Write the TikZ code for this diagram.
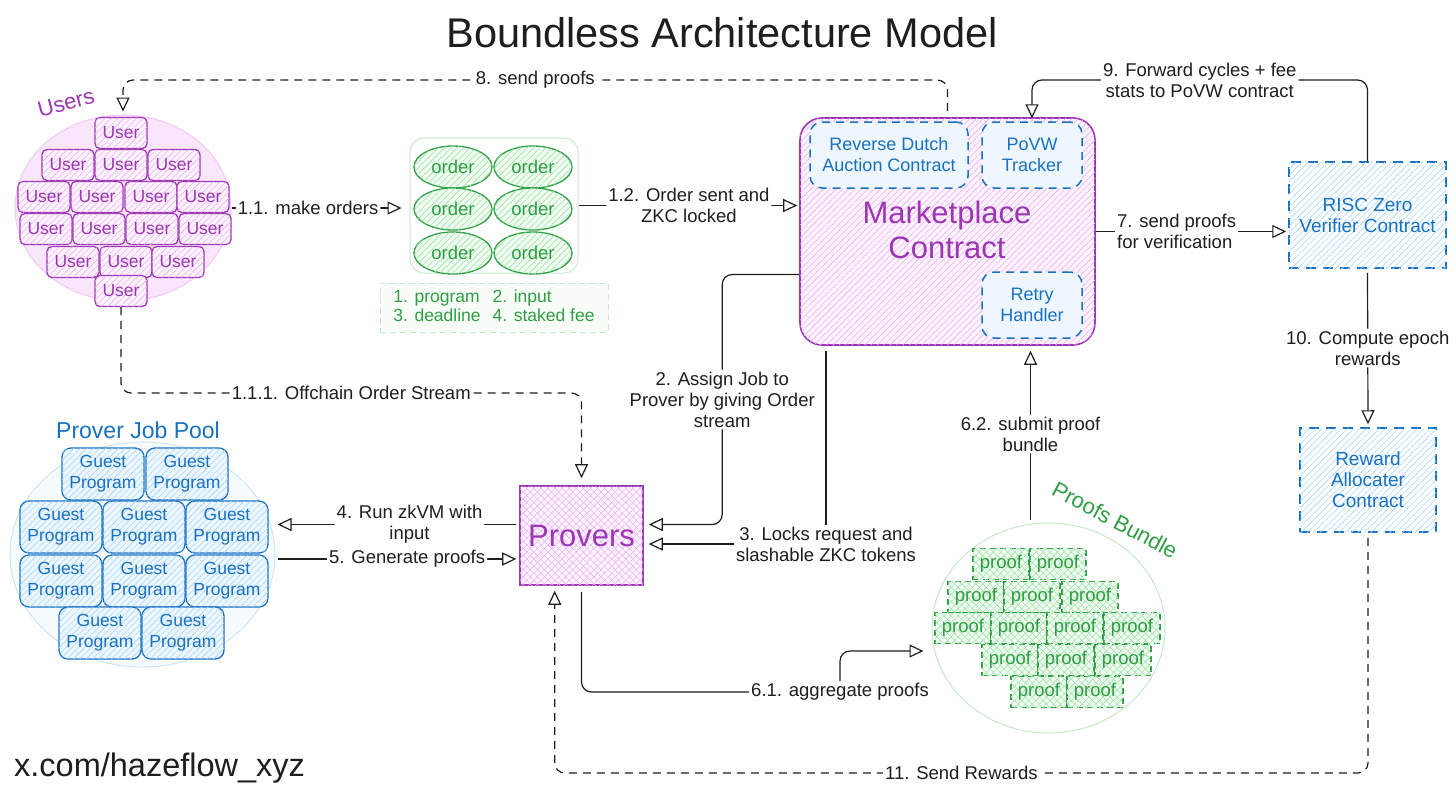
\documentclass[tikz,border=0pt]{standalone}
\usepackage{fontspec}
\setmainfont{Liberation Sans}
\usetikzlibrary{arrows.meta,patterns.meta,shapes.geometric,calc}
\definecolor{vio}{HTML}{9C36B5}
\definecolor{vioF}{HTML}{FDF2FE}
\definecolor{vioH}{HTML}{E7B3F0}
\definecolor{vioC}{HTML}{F0C8F3}
\definecolor{vioCF}{HTML}{FAE6FA}
\definecolor{blu}{HTML}{1971C2}
\definecolor{bluF}{HTML}{EEF7FF}
\definecolor{bluH}{HTML}{A5D8FF}
\definecolor{bluC}{HTML}{CFE5F6}
\definecolor{bluCF}{HTML}{F6FBFF}
\definecolor{grn}{HTML}{2F9E44}
\definecolor{grnF}{HTML}{F0FBF1}
\definecolor{grnH}{HTML}{9BE3A7}
\definecolor{grnC}{HTML}{C6E8CB}
\definecolor{ink}{HTML}{1E1E1E}
\begin{document}
\begin{tikzpicture}[x=1pt,y=-1pt,
  hatch/.style={postaction={pattern={Lines[angle=45,distance=4.5pt,line width=0.6pt]},pattern color=#1}},
  xhatch/.style={postaction={pattern={Hatch[angle=45,distance=5pt,line width=0.5pt]},pattern color=#1}},
  lbl/.style={font=\fontsize{18.5}{21}\selectfont, text=ink, fill=white, inner sep=2pt, align=center},
  conn/.style={draw=ink, line width=1.2pt, rounded corners=10pt, -{Triangle[open,length=14pt,width=13pt]}},
  dconn/.style={conn, dash pattern=on 8pt off 6pt},
  plainline/.style={draw=ink, line width=1.2pt, rounded corners=10pt},
  userbox/.style={rectangle, rounded corners=5pt, draw=vio, line width=1.3pt, fill=vioF, hatch=vioH,
    minimum width=52pt, minimum height=31pt, inner sep=0pt, text=vio, font=\fontsize{17.5}{20}\selectfont},
  guestbox/.style={rectangle, rounded corners=9pt, draw=blu, line width=1.3pt, fill=bluF, hatch=bluH,
    minimum width=82pt, minimum height=52pt, inner sep=0pt, text=blu, align=center, font=\fontsize{17.5}{21}\selectfont},
  orderell/.style={ellipse, draw=grn, line width=1.3pt, fill=grnF, hatch=grnH,
    minimum width=78pt, minimum height=42pt, inner sep=0pt, text=grn, font=\fontsize{18.5}{20}\selectfont},
  proofbox/.style={rectangle, draw=grn, line width=1.3pt, dash pattern=on 6pt off 4pt, fill=grnF, xhatch=grnH,
    minimum width=56pt, minimum height=31pt, inner sep=0pt, text=grn, font=\fontsize{18.5}{20}\selectfont},
  innerbox/.style={rectangle, rounded corners=12pt, draw=blu, line width=1.5pt, dash pattern=on 8pt off 6pt,
    fill=bluF, text=blu, align=center, inner sep=0pt, font=\fontsize{18}{21}\selectfont},
  contract/.style={rectangle, draw=blu, line width=1.5pt, dash pattern=on 10pt off 7pt,
    fill=white, hatch=bluH, text=blu, align=center, inner sep=0pt, font=\fontsize{19}{21}\selectfont},
]
\useasboundingbox (0,0) rectangle (1456,796);
\fill[white] (0,0) rectangle (1456,796);

% title and footer
\node[font=\fontsize{41.5}{46}\selectfont, text=ink] (title) at (722,33) {Boundless Architecture Model};
\node[font=\fontsize{32.5}{36}\selectfont, text=ink, anchor=west, inner sep=0pt] (footer) at (14,768) {x.com/hazeflow\_xyz};

% Users cluster
\node[ellipse, draw=vioC, fill=vioCF, line width=1pt, minimum width=216pt, minimum height=186pt] (users) at (123,208) {};
\node[rotate=15, text=vio, font=\fontsize{22}{26}\selectfont] (userslbl) at (66,103) {Users};
\foreach \nm/\x/\y in {u1/121/133, u2/68/165, u3/121/165, u4/174/165, u5/44/197, u6/97/197, u7/151/197, u8/203/197,
  u9/46/229, u10/99/229, u11/152/229, u12/205/229, u13/73/262, u14/126/262, u15/178/262, u16/121/291}
  \node[userbox] (\nm) at (\x,\y) {User};

% Orders
\node[rectangle, rounded corners=14pt, draw=grnC, line width=1pt, minimum width=168pt, minimum height=135pt] (orders) at (494,205.5) {};
\foreach \nm/\x/\y in {o1/453/167, o2/533/167, o3/453/209, o4/533/209, o5/453/253, o6/533/253}
  \node[orderell] (\nm) at (\x,\y) {order};
\node[rectangle, draw=grnC, line width=1pt, dash pattern=on 6pt off 4pt, fill=grnF!50, text=grn,
  minimum width=228pt, minimum height=49pt, font=\fontsize{17.5}{20}\selectfont] (legend) at (494,307.5)
  {\begin{tabular}{@{}l@{\hspace{12pt}}l@{}}1. program & 2. input\\[-1pt] 3. deadline & 4. staked fee\end{tabular}};

% Marketplace
\node[rectangle, rounded corners=22pt, draw=vio, line width=1.6pt, fill=vioF, hatch=vioH,
  minimum width=295pt, minimum height=227pt] (market) at (947.5,231.5) {};
\node[text=vio, font=\fontsize{31}{35}\selectfont, align=center] (marketlbl) at (947,230) {Marketplace\\Contract};
\node[innerbox, minimum width=158pt, minimum height=66pt] (rdac) at (889,155) {Reverse Dutch\\Auction Contract};
\node[innerbox, minimum width=100pt, minimum height=66pt] (povw) at (1032,155) {PoVW\\Tracker};
\node[innerbox, minimum width=100pt, minimum height=66pt] (retry) at (1032,305) {Retry\\Handler};

% RISC Zero and Reward
\node[contract, minimum width=157pt, minimum height=106pt] (risc) at (1367.5,215) {RISC Zero\\Verifier Contract};
\node[contract, minimum width=136pt, minimum height=104pt] (reward) at (1368,480) {Reward\\Allocater\\Contract};

% Provers
\node[rectangle, draw=vio, line width=1.6pt, fill=vioF, xhatch=vioH, minimum width=123pt, minimum height=99pt,
  text=vio, font=\fontsize{31}{35}\selectfont] (provers) at (581.5,535.5) {Provers};

% Prover job pool
\node[ellipse, draw=bluC, fill=bluCF, line width=1pt, minimum width=265pt, minimum height=225pt] (pool) at (142.5,554.5) {};
\node[text=blu, font=\fontsize{23}{27}\selectfont] (poollbl) at (138,430) {Prover Job Pool};
\foreach \nm/\x/\y in {g1/103/474, g2/187/474, g3/61/527, g4/144/527, g5/227/527, g6/61/581, g7/144/581, g8/227/581, g9/100/633, g10/183/633}
  \node[guestbox] (\nm) at (\x,\y) {Guest\\Program};

% Proofs bundle
\node[ellipse, draw=grnC, fill=white, line width=1pt, minimum width=233pt, minimum height=210pt] (bundle) at (1048.5,628) {};
\node[rotate=-28, text=grn, font=\fontsize{22}{26}\selectfont] (bundlelbl) at (1115,520) {Proofs Bundle};
\foreach \nm/\x/\y in {p1/1001/564, p2/1058/564, p3/976/597, p4/1032/597, p5/1090/597,
  p6/963/628, p7/1019/628, p8/1075/628, p9/1132/628, p10/1010/660, p11/1066/660, p12/1123/660, p13/1039/692, p14/1095/692}
  \node[proofbox] (\nm) at (\x,\y) {proof};

% helper coordinates
\coordinate (top) at (0,80);
\coordinate (bot) at (0,773);
\coordinate (mid111) at (0,393);
\coordinate (pin) at ($(provers.south west)!0.285!(provers.south east)$);
\coordinate (c2) at ($(market.west)+(0,43)$);
\coordinate (c4) at ($(provers.west)+(0,-11)$);
\coordinate (c5) at ($(provers.west)+(0,23.5)$);
\coordinate (b61) at ($(bundle.west)+(-8,23)$);
\coordinate (b62) at ($(bundle.north)+(-18,0)$);

% connectors
\draw[conn, shorten >=8pt] (users.east) -- node[lbl, pos=0.43] {1.1. make orders} (users.east -| orders.west);
\draw[conn, shorten >=2pt] (orders.east) -- node[lbl] {1.2. Order sent and\\ZKC locked} (orders.east -| market.west);
\draw[conn, shorten >=2pt] (market.east) -- node[lbl, align=left, pos=0.42] {7. send proofs\\for verification} (market.east -| risc.west);
\draw[dconn, shorten <=6pt, shorten >=3pt] (market.north) -- (market.north |- top) -| node[lbl, pos=0.25] {8. send proofs} (users.north);
\draw[conn, shorten >=3pt] (risc.north) -- (risc.north |- top) -| node[lbl, pos=0.25] {9. Forward cycles + fee\\stats to PoVW contract} (povw.north);
\draw[conn, shorten <=4pt, shorten >=3pt] (risc.south) -- node[lbl] {10. Compute epoch\\rewards} (reward.north);
\draw[dconn, shorten <=5pt, shorten >=5pt] (reward.south) -- (reward.south |- bot) -| node[lbl, pos=0.25] {11. Send Rewards} (pin);
\draw[dconn, shorten >=7pt] (u16.south) -- (u16.south |- mid111) -| node[lbl, pos=0.25] {1.1.1. Offchain Order Stream} (provers.north);
\draw[conn, shorten >=5pt] (c2) -- ++(-77,0) |- node[lbl, pos=0.25] {2. Assign Job to\\Prover by giving Order\\stream} (c4 -| provers.east);
\node[lbl] (l3) at (826,544) {3. Locks request and\\slashable ZKC tokens};
\draw[plainline, shorten >=5pt] (l3.north) -- (l3.north |- market.south);
\draw[conn, shorten >=5pt] (l3.west) -- (l3.west -| provers.east);
\draw[conn, shorten <=3pt, shorten >=2pt] (c4) -- node[lbl, pos=0.45] {4. Run zkVM with\\input} (c4 -| pool.east);
\draw[conn, shorten <=2pt, shorten >=3pt] (c5 -| pool.east) -- node[lbl, pos=0.54] {5. Generate proofs} (c5);
\node[lbl] (l61) at (840,692) {6.1. aggregate proofs};
\draw[plainline, shorten <=6pt] (provers.south) |- (l61.west);
\draw[conn] (l61.north) |- (b61);
\draw[conn, shorten <=3pt, shorten >=5pt] (b62) -- node[lbl] {6.2. submit proof\\bundle} (b62 |- market.south);
\end{tikzpicture}
\end{document}
